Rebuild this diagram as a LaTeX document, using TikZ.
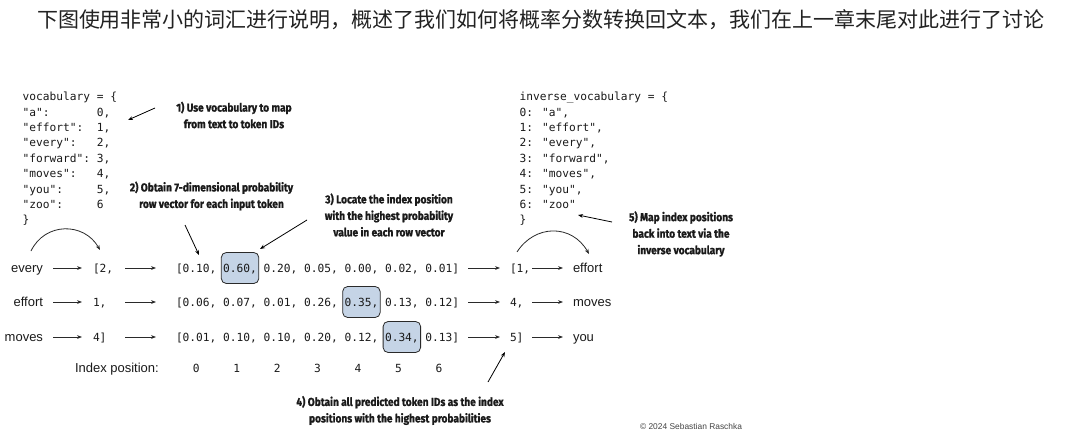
\documentclass[tikz,border=0pt]{standalone}
\usepackage{fontspec}
\setmainfont{Liberation Sans}
\newfontfamily\cjk{Noto Sans CJK SC}
\newfontfamily\mono{DejaVu Sans Mono}
\newfontfamily\annf[FakeStretch=0.88,FakeBold=1.2]{Fira Sans}
\usetikzlibrary{arrows.meta,calc}
\definecolor{ink}{HTML}{1A1A1A}
\definecolor{arrowc}{HTML}{2A2A2A}
\definecolor{hlc}{HTML}{C5D4E6}
\definecolor{boxc}{HTML}{2A2A2A}
\definecolor{titlec}{HTML}{222222}
\definecolor{copyc}{HTML}{444444}
\begin{document}
\begin{tikzpicture}[x=1pt,y=-1pt,
  txt/.style={inner sep=0pt, outer sep=0pt, text height=8pt, text depth=0pt, anchor=base west, text=ink},
  word/.style={txt, font=\fontsize{13}{15}\selectfont},
  rowcode/.style={txt, font=\mono\fontsize{11.2}{14}\selectfont},
  tok/.style={rowcode, text width=20.3pt, align=left},
  code/.style={inner sep=0pt, anchor=base west, text=ink, font=\mono\fontsize{11.2}{15.4}\selectfont},
  ann/.style={align=center, inner sep=0pt, text=ink, font=\annf\bfseries\fontsize{11.5}{16.5}\selectfont},
  arr/.style={draw=arrowc, line width=0.8pt, -{Stealth[length=5pt,width=3.8pt]}},
  hl/.style={draw=boxc, line width=0.8pt, fill=hlc, rounded corners=5pt, minimum width=37.5pt, minimum height=31pt, inner sep=0pt}
]
\fill[white] (0,0) rectangle (1079,442);
\useasboundingbox (0,0) rectangle (1079,442);

% title
\node[font=\cjk\fontsize{21}{25}\selectfont, text=titlec, inner sep=0pt] (title) at (541,20)
  {下图使用非常小的词汇进行说明，概述了我们如何将概率分数转换回文本，我们在上一章末尾对此进行了讨论};

% vocabulary
\foreach \t [count=\i from 0] in {vocabulary = \{, {"a":~~~~~~~0,}, {"effort":~~1,}, {"every":~~~2,},
  {"forward":~3,}, {"moves":~~~4,}, {"you":~~~~~5,}, {"zoo":~~~~~6}, \}}
  \node[code] (voc\i) at (22.5, {100.7+15.4*\i}) {\t};

% inverse vocabulary
\foreach \t [count=\i from 0] in {inverse\_vocabulary = \{, {0: "a",}, {1: "effort",}, {2: "every",},
  {3: "forward",}, {4: "moves",}, {5: "you",}, {6: "zoo"}, \}}
  \node[code] (inv\i) at (519.5, {100.7+15.4*\i}) {\t};

% highlight boxes
\node[hl] (h1) at ({176+9.5*6.742}, 268) {};
\node[hl] (h2) at ({176+27.5*6.742}, 302) {};
\node[hl] (h3) at ({176+33.5*6.742}, 337) {};

% rows
\node[word, anchor=base east] (w1) at (43,272) {every};
\node[word, anchor=base east] (w2) at (43,306) {effort};
\node[word, anchor=base east] (w3) at (43,341) {moves};

\node[tok] (t1) at (93,272) {[2,};
\node[tok] (t2) at (93,306) {1,};
\node[tok] (t3) at (93,341) {4]};

\node[rowcode] (v1) at (176,272) {[0.10, 0.60, 0.20, 0.05, 0.00, 0.02, 0.01]};
\node[rowcode] (v2) at (176,306) {[0.06, 0.07, 0.01, 0.26, 0.35, 0.13, 0.12]};
\node[rowcode] (v3) at (176,341) {[0.01, 0.10, 0.10, 0.20, 0.12, 0.34, 0.13]};

\node[tok] (r1) at (510,272) {[1,};
\node[tok] (r2) at (510,306) {4,};
\node[tok] (r3) at (510,341) {5]};

\node[word] (o1) at (573,272) {effort};
\node[word] (o2) at (573,306) {moves};
\node[word] (o3) at (573,341) {you};

\foreach \i in {1,2,3} {
  \draw[arr, shorten <=10pt, shorten >=11pt] (w\i) -- (t\i);
  \draw[arr, shorten <=12pt, shorten >=20pt] (t\i) -- (v\i);
  \draw[arr, shorten <=9pt, shorten >=10pt] (v\i) -- (r\i);
  \draw[arr, shorten <=2pt, shorten >=10pt] (r\i) -- (o\i);
}

% index positions
\node[word] (idx) at (75,372) {Index position:};
\foreach \k in {0,...,6}
  \node[rowcode, anchor=base] (ix\k) at ({176+(3+6*\k)*6.742}, 372) {\k};

% arcs
\coordinate (aL0) at (31,251);
\coordinate (aL1) at (100,250);
\draw[arr] (aL0) .. controls (45,222) and (84,222) .. (aL1);
\coordinate (aR0) at (517,252);
\coordinate (aR1) at (589,254);
\draw[arr] (aR0) .. controls (535,224) and (572,224) .. (aR1);

% annotations
\node[ann] (n1) at (234,115) {1) Use vocabulary to map\\from text to token IDs};
\node[ann] (n2) at (211.5,196) {2) Obtain 7-dimensional probability\\row vector for each input token};
\node[ann] (n3) at (389,215) {3) Locate the index position\\with the highest probability\\value in each row vector};
\node[ann] (n4) at (400,410.5) {4) Obtain all predicted token IDs as the index\\positions with the highest probabilities};
\node[ann] (n5) at (681,234) {5) Map index positions\\back into text via the\\inverse vocabulary};

\coordinate (p1s) at (155,108); \coordinate (p1e) at (128,120);
\coordinate (p2s) at (185,225); \coordinate (p2e) at (199,255);
\coordinate (p3s) at (307,220); \coordinate (p3e) at (260,249);
\coordinate (p4s) at (488,382); \coordinate (p4e) at (505,352);
\coordinate (p5s) at (612,222); \coordinate (p5e) at (578,215);
\foreach \i in {1,...,5}
  \draw[arr, draw=black] (p\i s) -- (p\i e);

% copyright
\node[font=\fontsize{8.4}{10}\selectfont, text=copyc, inner sep=0pt] (copy) at (691,426)
  {\textcopyright{} 2024 Sebastian Raschka};
\end{tikzpicture}
\end{document}
